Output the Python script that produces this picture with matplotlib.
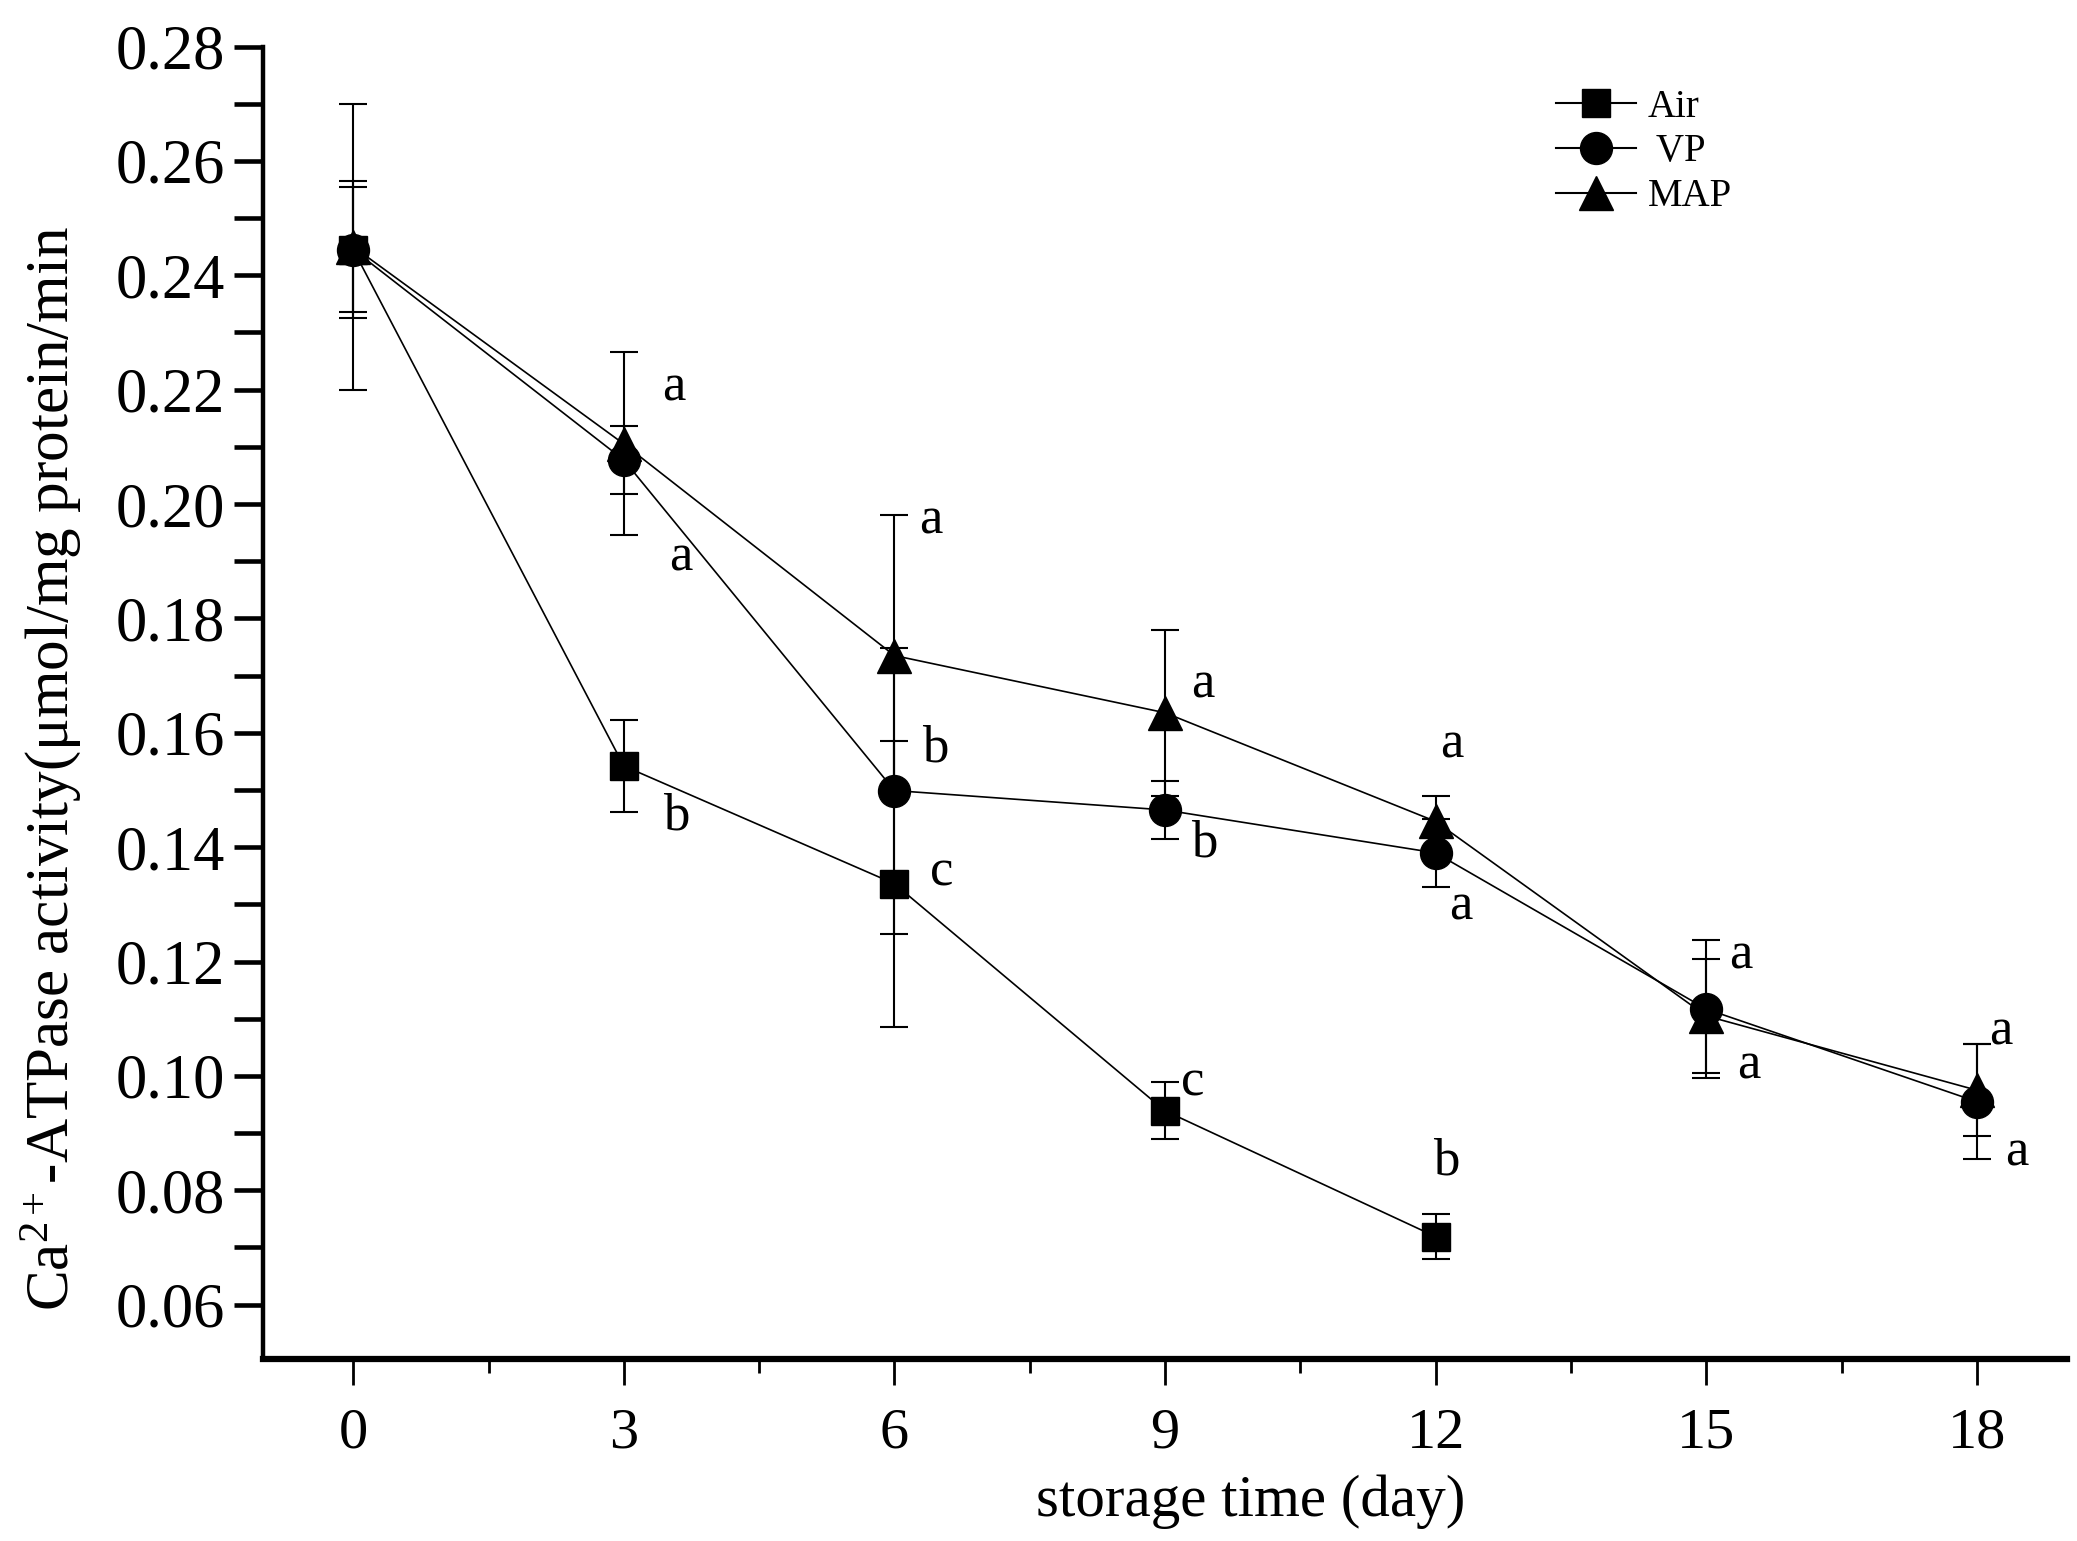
import matplotlib
matplotlib.use('Agg')
import matplotlib.pyplot as plt
from matplotlib.lines import Line2D
from matplotlib.ticker import MultipleLocator, FormatStrFormatter

plt.rcParams['font.family'] = ['Liberation Serif', 'DejaVu Serif']
plt.rcParams['mathtext.fontset'] = 'custom'
plt.rcParams['mathtext.rm'] = 'Liberation Serif'
plt.rcParams['mathtext.it'] = 'Liberation Serif:italic'

# ---- data ----
days_air = [0, 3, 6, 9, 12]
air = [0.2445, 0.1542, 0.1336, 0.0939, 0.0719]
air_err = [0.011, 0.008, 0.025, 0.005, 0.004]

days = [0, 3, 6, 9, 12, 15, 18]
vp = [0.2445, 0.2077, 0.1499, 0.1465, 0.1390, 0.1117, 0.0955]
vp_err = [0.012, 0.006, 0.025, 0.005, 0.006, 0.012, 0.010]
map_vals = [0.2450, 0.2105, 0.1735, 0.1635, 0.1445, 0.1105, 0.0975]
map_err = [0.025, 0.016, 0.0245, 0.0145, 0.0045, 0.010, 0.008]

series_labels = ['Air', ' VP', 'MAP']

ann_text = ['a', 'a', 'b', 'a', 'b', 'c', 'a', 'b', 'c', 'a', 'a', 'b', 'a', 'a', 'a', 'a']
ann_x = [3.56, 3.63, 3.58, 6.40, 6.45, 6.52, 9.42, 9.44, 9.31, 12.18, 12.28, 12.12, 15.38, 15.47, 18.27, 18.44]
ann_y = [0.2203, 0.1906, 0.1453, 0.1972, 0.1573, 0.1356, 0.1684, 0.1406, 0.0988, 0.1579, 0.1296, 0.0850,
         0.1211, 0.1019, 0.1078, 0.0866]

xticks = [0, 3, 6, 9, 12, 15, 18]

# ---- figure ----
W, H = 2077, 1541
fig = plt.figure(figsize=(W / 100, H / 100), dpi=100)
ax = fig.add_axes([263 / W, 1 - 1359 / H, (2067 - 263) / W, (1359 - 46.5) / H])

common = dict(color='black', lw=1.2, elinewidth=1.5, capsize=10, capthick=1.5, mec='black', mfc='black')
ax.errorbar(days_air, air, yerr=air_err, marker='s', ms=20, **common, zorder=3)
ax.errorbar(days, vp, yerr=vp_err, marker='o', ms=23, **common, zorder=3)
ax.errorbar(days, map_vals, yerr=map_err, marker='^', ms=25, **common, zorder=3)

for t, x, y in zip(ann_text, ann_x, ann_y):
    ax.text(x, y, t, fontsize=38, ha='center', va='center')

ax.set_xlim(-1, 19)
ax.set_ylim(0.0505, 0.28)
ax.set_xticks(xticks)
ax.xaxis.set_minor_locator(MultipleLocator(1.5))
ax.yaxis.set_major_locator(MultipleLocator(0.02))
ax.yaxis.set_minor_locator(MultipleLocator(0.01))
ax.yaxis.set_major_formatter(FormatStrFormatter('%.2f'))

for s in ['top', 'right']:
    ax.spines[s].set_visible(False)
ax.spines['left'].set_linewidth(3.2)
ax.spines['bottom'].set_linewidth(4.5)
ax.spines['left'].set_bounds(0.0505, 0.28)

ax.tick_params(axis='y', which='both', direction='out', length=21, width=3.3, labelsize=45, pad=6)
ax.tick_params(axis='x', which='major', direction='out', length=19, width=2, labelsize=42, pad=16)
ax.tick_params(axis='x', which='minor', direction='out', length=10, width=2)

fig.text(51 / W, 1 - 768 / H, 'Ca$^{2+}$-ATPase activity(μmol/mg protein/min',
         rotation=90, ha='center', va='center', fontsize=44)
fig.text(1251 / W, 1 - 1502 / H, 'storage time (day)', ha='center', va='center', fontsize=42.5)

handles = [
    Line2D([], [], color='black', lw=1.5, marker='s', ms=20, mfc='black', mec='black'),
    Line2D([], [], color='black', lw=1.5, marker='o', ms=23, mfc='black', mec='black'),
    Line2D([], [], color='black', lw=1.5, marker='^', ms=25, mfc='black', mec='black'),
]
leg = fig.legend(handles, series_labels, loc='center left',
                 bbox_to_anchor=(1556 / W, 1 - 152 / H), bbox_transform=fig.transFigure,
                 frameon=False, fontsize=28, numpoints=1, handlelength=2.05,
                 handletextpad=0.3, labelspacing=0.2, borderpad=0, borderaxespad=0)

fig.savefig('out.png', dpi=100)
